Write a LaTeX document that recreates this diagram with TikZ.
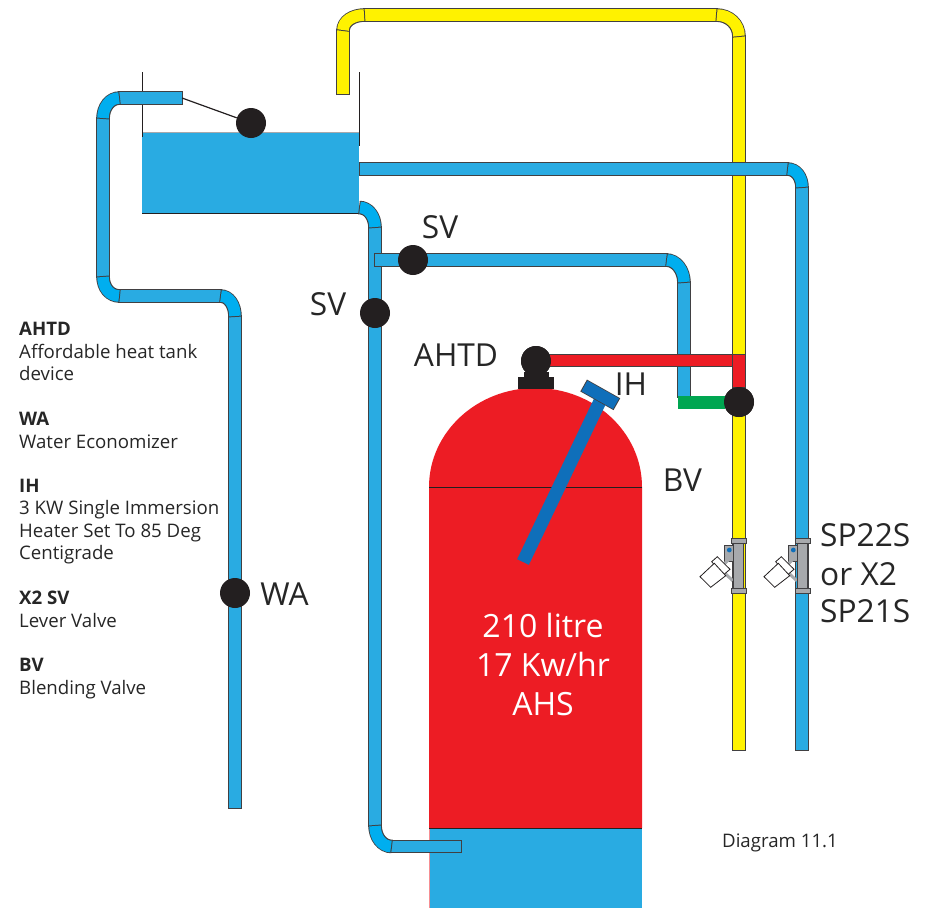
\documentclass[tikz,border=0pt]{standalone}
\usepackage{fontspec}
\setmainfont{Open Sans}
\definecolor{pipeblue}{HTML}{29ABE2}
\definecolor{bendblue}{HTML}{00AEEF}
\definecolor{pipeyellow}{HTML}{FFF200}
\definecolor{pipegreen}{HTML}{00A651}
\definecolor{tankred}{HTML}{ED1C24}
\definecolor{heaterblue}{HTML}{0F6FBA}
\definecolor{ballblack}{HTML}{231F20}
\definecolor{edgegrey}{HTML}{414042}
\definecolor{valvegrey}{HTML}{A7A9AC}
\tikzset{pipe/.style={draw=#1, line width=11.6pt,
		preaction={draw=edgegrey, line width=13.6pt, shorten <=-1pt, shorten >=-1pt}},
	ball/.style={circle, fill=ballblack, inner sep=0pt, minimum size=30pt},
	label/.style={inner sep=0pt, text=black!85, font=\fontsize{31.7}{38}\selectfont},
	legend/.style={inner sep=0pt, anchor=north west, align=left, text=black!85, font=\fontsize{18.65}{22.5}\selectfont},
	tanktext/.style={inner sep=0pt, text=white, align=center, font=\fontsize{32}{38.6}\selectfont},
	thinline/.style={draw=ballblack, line width=1pt},
	valvepart/.style={draw=edgegrey, fill=valvegrey, line width=.8pt},
	leverbox/.style={draw=ballblack, fill=white, line width=.8pt},
	levervalve/.pic={
		\draw[valvepart] (-14.7,7) rectangle (-5.7,23.7);
		\draw[valvegrey, line width=3pt] (-14,35.3) -- (-6.3,42.7);
		\draw[valvegrey, line width=3pt] (-10.7,22) -- (-15.7,27);
		\draw[valvepart] (-6,5) rectangle (4.3,50);
		\draw[valvepart] (-7.3,0) rectangle (7,5);
		\draw[valvepart] (-7.3,50) rectangle (7,55);
		\fill[heaterblue] (-9.7,12) circle (2.4pt);
		\draw[leverbox] (-27.3,23.7) -- (-21.7,18.7) -- (-9,31.3) -- (-15.7,37) -- cycle;
		\draw[leverbox] (-39,38.7) -- (-24.7,25.3) -- (-13.3,37.7) -- (-28.3,49.3) -- cycle;
	}}
\begin{document}
\begin{tikzpicture}[x=1pt,y=-1pt]
	\useasboundingbox (0,0) rectangle (929,908);
	% storage tank
	\coordinate (domeleft) at (429,487);
	\coordinate (domeright) at (642,487);
	\fill[tankred] (domeleft) arc[start angle=180, end angle=0, x radius=106.5, y radius=-99] -- (642,828) -- (429,828) -- cycle;
	\fill[pipeblue] (429,828) rectangle (642,908);
	\draw[tankred!50, line width=.8pt] (429,828) -- (429,908);
	\draw[thinline] (domeleft) -- (domeright);
	\draw[thinline] (429,828) -- (642,828);
	% yellow pipe
	\coordinate (ya) at (343,94);
	\coordinate (yb) at (343,30);
	\coordinate (yc) at (364,15);
	\coordinate (yd) at (717,15);
	\coordinate (ye) at (739,36);
	\coordinate (yf) at (739,750);
	\draw[pipe=pipeyellow] (ye) -- (yf);
	\draw[pipe=pipeyellow] (ya) -- (yb);
	\draw[pipe=pipeyellow] (yc) -- (yd);
	\draw[pipe=pipeyellow] (yb) .. controls +(0,-9) and +(-11,0) .. (yc);
	\draw[pipe=pipeyellow] (yd) .. controls +(12,0) and +(0,-12) .. (ye);
	% header tank
	\coordinate (wallleft) at (142,72);
	\coordinate (wallright) at (359,72);
	\fill[pipeblue] (142,132) rectangle (359,213);
	\draw[draw=valvegrey, line width=.8pt] (142,132) -- (359,132);
	\draw[thinline] (142,213) -- (359,213);
	\draw[thinline] (wallleft) -- (142,137);
	\draw[thinline] (wallright) -- (359,146);
	% feed pipe with economizer
	\coordinate (fa) at (182,98);
	\coordinate (fb) at (119,98);
	\coordinate (fc) at (103,118);
	\coordinate (fd) at (103,277);
	\coordinate (fe) at (119,296);
	\coordinate (ff) at (221,296);
	\coordinate (fg) at (235,316);
	\coordinate (fh) at (235,808);
	\draw[pipe=pipeblue] (fa) -- (fb);
	\draw[pipe=pipeblue] (fc) -- (fd);
	\draw[pipe=pipeblue] (fe) -- (ff);
	\draw[pipe=pipeblue] (fg) -- (fh);
	\draw[pipe=bendblue] (fb) .. controls +(-9,0) and +(0,-11) .. (fc);
	\draw[pipe=bendblue] (fd) .. controls +(0,11) and +(-9,0) .. (fe);
	\draw[pipe=bendblue] (ff) .. controls +(8,0) and +(0,-11) .. (fg);
	% cold feed to right hand outlet
	\coordinate (oa) at (360,169);
	\coordinate (ob) at (788,169);
	\coordinate (oc) at (802,187);
	\coordinate (od) at (802,750);
	\draw[pipe=pipeblue] (oc) -- (od);
	\draw[pipe=pipeblue] (oa) -- (ob);
	\draw[pipe=bendblue] (ob) .. controls +(8,0) and +(0,-10) .. (oc);
	% feed down to tank
	\coordinate (da) at (360,207.5);
	\coordinate (db) at (375,227);
	\coordinate (dc) at (375,826);
	\coordinate (dd) at (391,846.5);
	\coordinate (de) at (461,846.5);
	\draw[pipe=pipeblue] (db) -- (dc);
	\draw[pipe=pipeblue] (dd) -- (de);
	\draw[pipe=bendblue] (da) .. controls +(8,0) and +(0,-11) .. (db);
	\draw[pipe=bendblue] (dc) .. controls +(0,11) and +(-9,0) .. (dd);
	% safety pipe and blending connection
	\coordinate (sa) at (375,260);
	\coordinate (sb) at (667,260);
	\coordinate (sc) at (684,282);
	\coordinate (sd) at (684,397);
	\draw[pipe=pipeblue] (sc) -- (sd);
	\draw[pipe=pipeblue] (sa) -- (sb);
	\draw[pipe=bendblue] (sb) .. controls +(9,0) and +(0,-12) .. (sc);
	% valves
	\node[ball] (float) at (251,123) {};
	\node[ball] (wa) at (235,593) {};
	\node[ball] (svtop) at (413,260) {};
	\node[ball] (svleft) at (375,313) {};
	\node[ball] (bv) at (739,402) {};
	\node[ball] (ahtd) at (536,361) {};
	\draw[ballblack, line width=1.2pt] (fa) -- (float);
	\fill[pipegreen] (678,396) rectangle (725,409);
	% hot pipe from the tank device
	\coordinate (ra) at (536,360.5);
	\coordinate (rb) at (745,360.5);
	\coordinate (rc) at (739,355);
	\draw[pipe=tankred] (ra) -- (rb);
	\draw[pipe=tankred] (rc) -- (bv);
	\fill[tankred] (734,356) rectangle (744,366);
	\node[ball] at (ahtd) {};
	\fill[ballblack] (524,372) rectangle (549,378);
	\fill[ballblack] (518,377) rectangle (554,389);
	\node[ball] at (bv) {};
	% immersion heater
	\coordinate (heatertop) at (602,397);
	\coordinate (heaterend) at (523,562);
	\coordinate (barleft) at (584.5,386);
	\coordinate (barright) at (616,403.7);
	\draw[heaterblue, line width=13pt] (heatertop) -- (heaterend);
	\draw[pipe=heaterblue, line width=12pt] (barleft) -- (barright);
	% sprayer valves
	\pic at (739,538) {levervalve};
	\pic at (803,538) {levervalve};
	% labels
	\node[label] (svtoplabel) at (440,227) {SV};
	\node[label] (svleftlabel) at (328,304) {SV};
	\node[label] (ahtdlabel) at (456,355) {AHTD};
	\node[label] (ihlabel) at (631,384) {IH};
	\node[label] (bvlabel) at (682.5,480) {BV};
	\node[label] (walabel) at (284.5,594) {WA};
	\node[label, anchor=west] (sp) at (820,535) {SP22S};
	\node[label, anchor=west] (spor) at (820,574) {or X2};
	\node[label, anchor=west] (spalt) at (820,611) {SP21S};
	\node[tanktext] (capacity) at (543,664.5) {210 litre\\17 Kw/hr\\AHS};
	\node[inner sep=0pt, text=black!85, font=\fontsize{18.65}{22}\selectfont] (caption) at (780,843) {Diagram 11.1};
	% legend
	\node[legend] (lahtd) at (19,322) {\textbf{AHTD}\\Affordable heat tank\\device};
	\node[legend] (lwa) at (19,412) {\textbf{WA}\\Water Economizer};
	\node[legend] (lih) at (19,478.5) {\textbf{IH}\\3 KW Single Immersion\\Heater Set To 85 Deg\\Centigrade};
	\node[legend] (lsv) at (19,591) {\textbf{X2 SV}\\Lever Valve};
	\node[legend] (lbv) at (19,658) {\textbf{BV}\\Blending Valve};
\end{tikzpicture}
\end{document}
